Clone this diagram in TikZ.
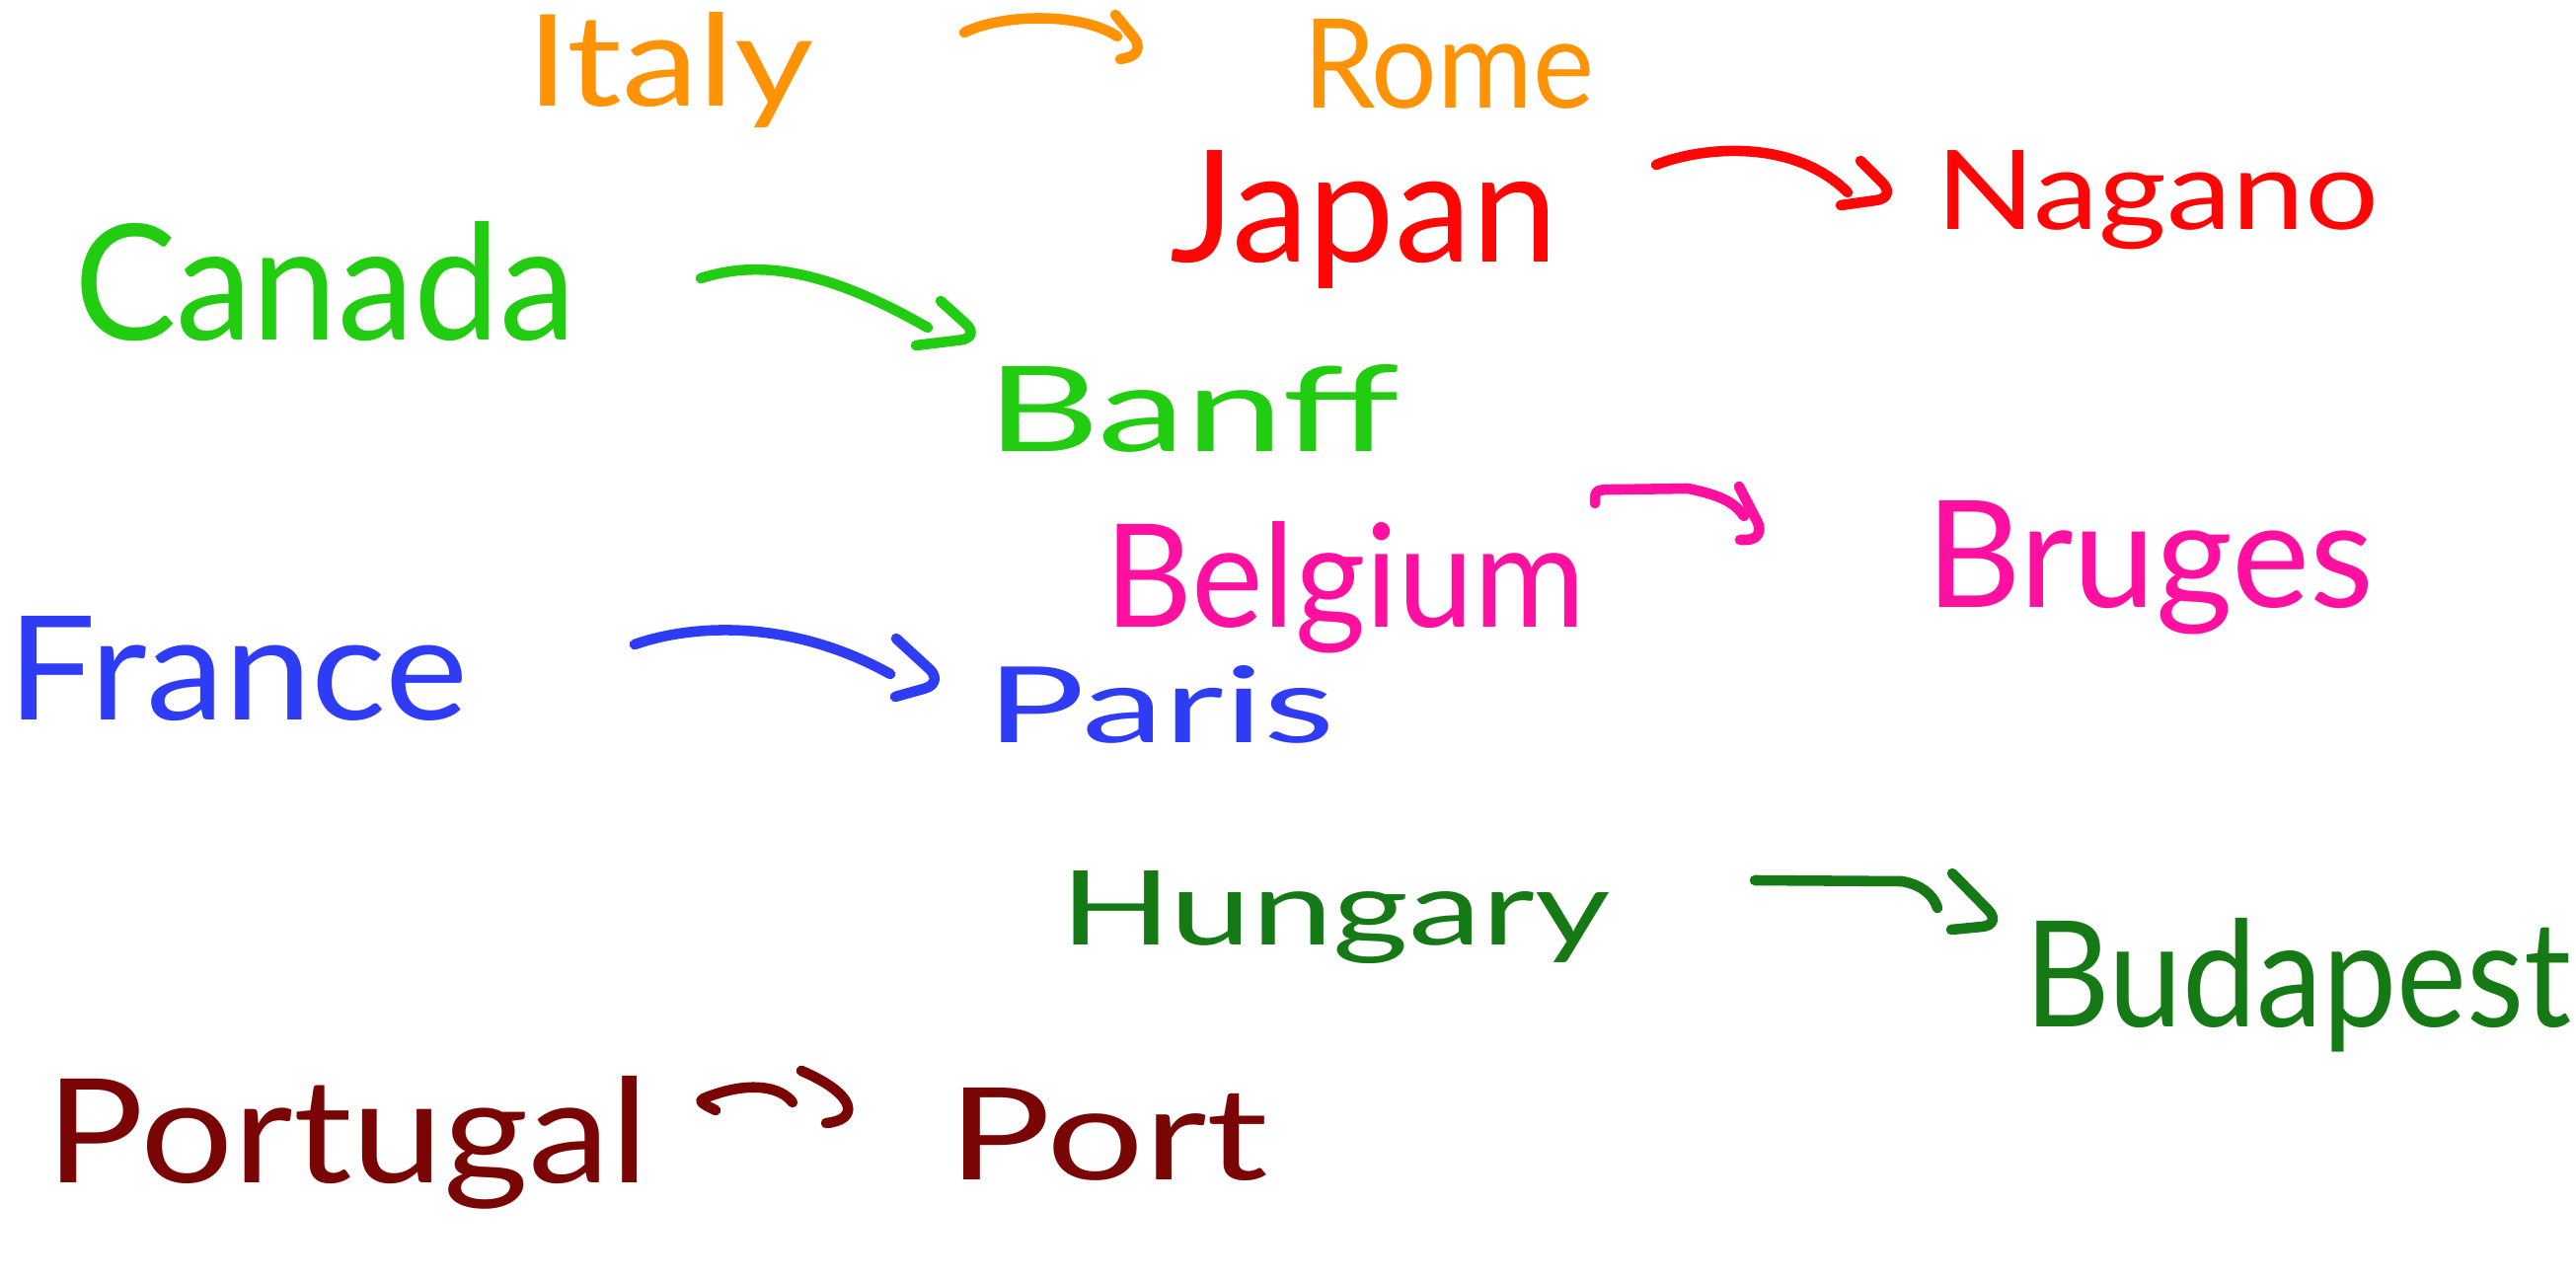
\documentclass[tikz,border=0pt]{standalone}
\usepackage{fontspec}
\usepackage{graphicx}
\setmainfont{Lato}
\definecolor{inkorange}{HTML}{FF9205}
\definecolor{inkred}{HTML}{FF0505}
\definecolor{inklime}{HTML}{22CC11}
\definecolor{inkpink}{HTML}{FF10A0}
\definecolor{inkblue}{HTML}{2E3CF5}
\definecolor{inkgreen}{HTML}{157A15}
\definecolor{inkmaroon}{HTML}{7A0505}
% word: a label placed by its baseline-left corner and stretched to a box
\newcommand{\wordbox}[3]{\resizebox{#1\unitlength}{#2\unitlength}{#3}}
\begin{document}
\setlength{\unitlength}{0.1mm}
\begin{tikzpicture}[x=0.01cm,y=-0.01cm,
  word/.style={anchor=base west,inner sep=0pt,outer sep=0pt},
  shaft/.style={line width=3pt,line cap=round,line join=round},
  hook/.style={line width=3pt,line cap=round,line join=round,rounded corners=6pt}]
\useasboundingbox (0,0) rectangle (2610,1298);
\fill[white] (0,0) rectangle (2610,1298);

% countries and cities
\node[word,text=inkorange] (italy)    at (533,108)  {\wordbox{291}{95}{Italy}};
\node[word,text=inkorange] (rome)     at (1320,110) {\wordbox{295}{90}{Rome}};
\node[word,text=inkred]    (japan)    at (1185,266) {\wordbox{393}{113}{Japan}};
\node[word,text=inkred]    (nagano)   at (1961,233) {\wordbox{449}{80}{Nagano}};
\node[word,text=inklime]   (canada)   at (75,345)   {\wordbox{508}{120}{Canada}};
\node[word,text=inklime]   (banff)    at (999,458)  {\wordbox{419}{88}{Banff}};
\node[word,text=inkpink]   (belgium)  at (1119,636) {\wordbox{487}{107}{Belgium}};
\node[word,text=inkpink]   (bruges)   at (1951,616) {\wordbox{454}{108}{Bruges}};
\node[word,text=inkblue]   (france)   at (8,729)    {\wordbox{466}{105}{France}};
\node[word,text=inkblue]   (paris)    at (999,752)  {\wordbox{353}{78}{Paris}};
\node[word,text=inkgreen]  (hungary)  at (1074,957) {\wordbox{557}{75}{Hungary}};
\node[word,text=inkgreen]  (budapest) at (2051,1040){\wordbox{554}{110}{Budapest}};
\node[word,text=inkmaroon] (portugal) at (47,1198)  {\wordbox{610}{108}{Portugal}};
\node[word,text=inkmaroon] (port)     at (960,1195) {\wordbox{325}{93}{Port}};

% arrow end points
\coordinate (itS) at (977,33);   \coordinate (itE) at (1132,37);
\coordinate (jpS) at (1678,167); \coordinate (jpE) at (1872,195);
\coordinate (caS) at (710,282);  \coordinate (caE) at (940,332);
\coordinate (beS) at (1616,510); \coordinate (beE) at (1767,523);
\coordinate (frS) at (643,653);  \coordinate (frE) at (902,683);
\coordinate (huS) at (1778,892); \coordinate (huE) at (1963,920);
\coordinate (ptS) at (725,1125); \coordinate (ptE) at (803,1117);

% Italy -> Rome
\draw[shaft,inkorange] (itS) .. controls (1015,14) and (1095,12) .. (itE);
\draw[hook,inkorange] (1130,15) -- (1162,54) -- (1135,60);
% Japan -> Nagano
\draw[shaft,inkred] (jpS) .. controls (1720,150) and (1815,138) .. (jpE);
\draw[hook,inkred] (1885,163) -- (1922,200) -- (1865,208);
% Canada -> Banff
\draw[shaft,inklime] (caS) .. controls (760,266) and (825,266) .. (caE);
\draw[hook,inklime] (953,305) -- (994,342) -- (928,350);
% Belgium -> Bruges
\draw[shaft,inkpink] (beS) .. controls (1616,496) .. (1640,496) -- (1710,495)
  .. controls (1745,502) and (1758,510) .. (beE);
\draw[hook,inkpink] (1762,493) -- (1790,547) -- (1763,547);
% France -> Paris
\draw[shaft,inkblue] (frS) .. controls (700,633) and (800,626) .. (frE);
\draw[hook,inkblue] (908,647) -- (957,692) -- (907,706);
% Hungary -> Budapest
\draw[shaft,inkgreen] (huS) -- (1927,893) .. controls (1950,897) and (1960,910) .. (huE);
\draw[hook,inkgreen] (1978,885) -- (2029,937) -- (1977,942);
% Portugal -> Port
\draw[shaft,inkmaroon] (ptS) .. controls (705,1115) .. (730,1107)
  .. controls (760,1098) and (790,1100) .. (ptE);
\draw[shaft,inkmaroon] (812,1085) .. controls (870,1110) and (870,1135) .. (837,1138);
\end{tikzpicture}
\end{document}
